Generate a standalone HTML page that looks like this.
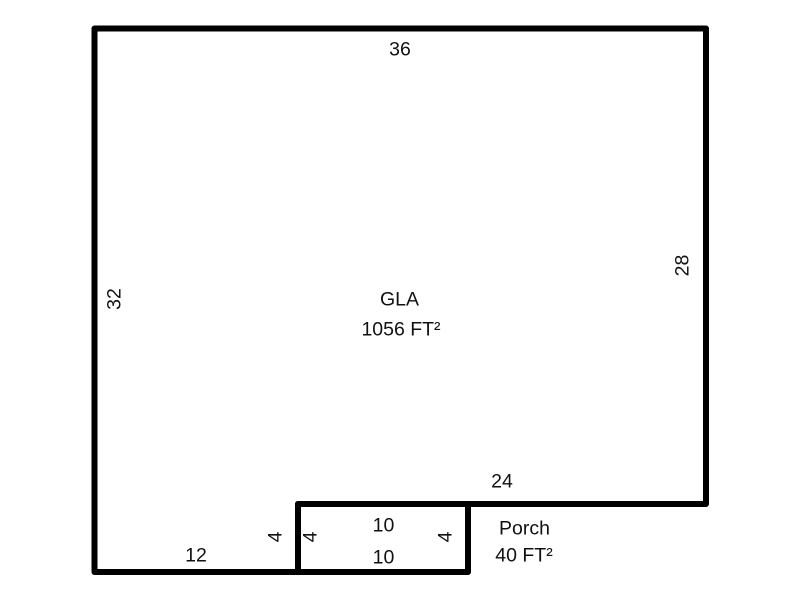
<!DOCTYPE html>
<html>
<head>
<meta charset="utf-8">
<style>
html,body{margin:0;padding:0;background:#fff;width:800px;height:600px;overflow:hidden}
svg{display:block}
text{font-family:"Liberation Sans",Arial,sans-serif;font-size:19.5px;fill:#111;text-anchor:middle}
</style>
</head>
<body>
<svg width="800" height="600" viewBox="0 0 800 600" xmlns="http://www.w3.org/2000/svg">
<g fill="none" stroke="#000" stroke-width="6" stroke-linejoin="round" stroke-linecap="round">
<path d="M94.5 28.5H706V504H298V572H94.5Z"/>
<path d="M298 504H468V572H298Z"/>
</g>
<text x="400" y="55.500">36</text>
<text x="399.500" y="305.500">GLA</text>
<text x="401" y="335.500">1056 FT²</text>
<text x="502" y="487.500">24</text>
<text x="383.500" y="531.500">10</text>
<text x="383.500" y="563.500">10</text>
<text x="196" y="561.500">12</text>
<text x="524.500" y="534.500">Porch</text>
<text x="524" y="561.500">40 FT²</text>
<text transform="translate(120.500,299) rotate(-90)">32</text>
<text transform="translate(688.500,265.500) rotate(-90)">28</text>
<text transform="translate(281.500,537) rotate(-90)">4</text>
<text transform="translate(316.500,537) rotate(-90)">4</text>
<text transform="translate(451.500,537) rotate(-90)">4</text>
</svg>
</body>
</html>
